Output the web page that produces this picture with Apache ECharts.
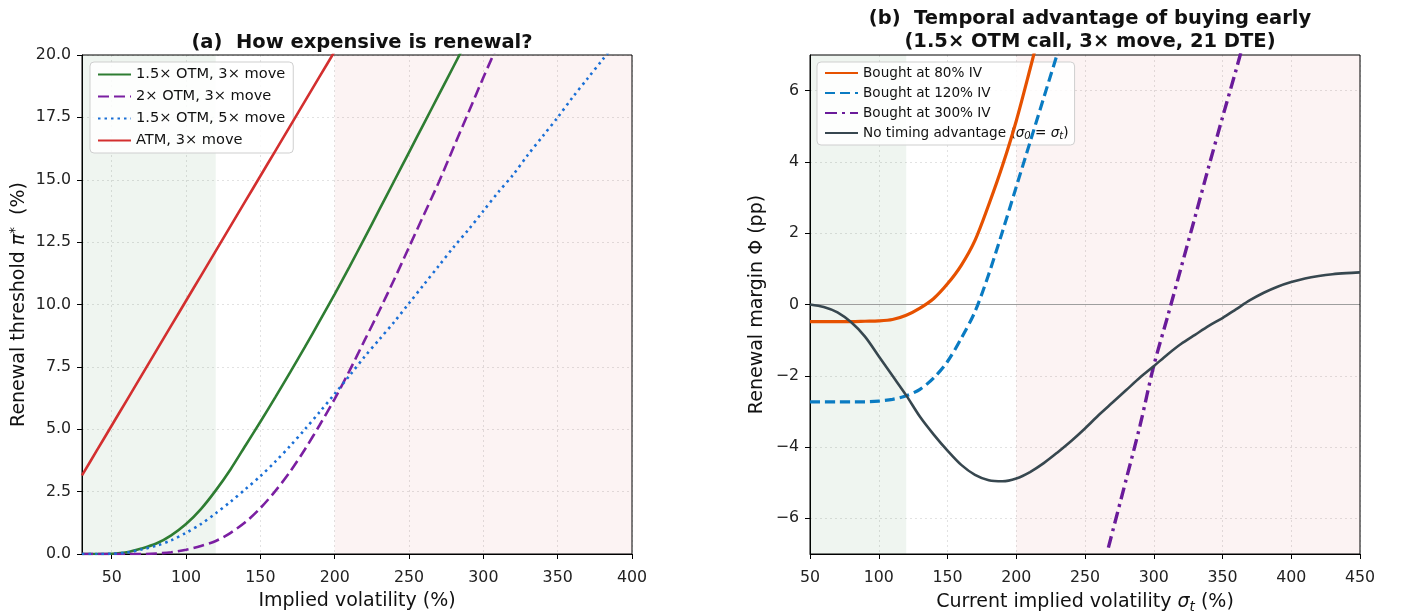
<!DOCTYPE html>
<html><head><meta charset="utf-8">
<script src="https://cdn.jsdelivr.net/npm/echarts@6/dist/echarts.min.js"></script>
<style>html,body{margin:0;padding:0;background:#fff}#c{width:1403px;height:615px}</style>
</head><body><div id="c"></div>
<script>
// ---------- Panel (a) data ----------
const ivA = [30,40,50,60,70,80,90,100,110,120,130,140,150,160,170,180,190,200,210,220,230,240,250,260,270,280,290,300,310,320,330,340,350,360,370,380,390,400];
const otm15_3x = [0,0,0.01,0.07,0.22,0.42,0.75,1.2,1.8,2.55,3.4,4.35,5.3,6.28,7.28,8.3,9.35,10.42,11.52,12.65,13.8,14.95,16.1,17.25,18.4,19.55,20.7,21.85];
const otm2_3x = [0,0,0,0,0,0.02,0.07,0.17,0.32,0.52,0.85,1.28,1.84,2.52,3.3,4.2,5.18,6.22,7.35,8.55,9.75,11.0,12.3,13.6,14.9,16.3,17.7,19.1,20.45,21.8];
const otm15_5x = [0,0,0.01,0.06,0.18,0.33,0.55,0.85,1.2,1.63,2.1,2.6,3.12,3.7,4.33,5.0,5.7,6.42,7.15,7.9,8.6,9.3,10.05,10.8,11.55,12.3,13.0,13.75,14.5,15.2,16.0,16.75,17.5,18.3,19.05,19.8,20.55,21.3];
const atm_3x = [3.15,4.15,5.15,6.15,7.15,8.15,9.15,10.15,11.15,12.15,13.15,14.15,15.15,16.15,17.15,18.15,19.15,20.15,21.15];
const namesA = ['1.5× OTM, 3× move','2× OTM, 3× move','1.5× OTM, 5× move','ATM, 3× move'];
const ticksAx = [50,100,150,200,250,300,350,400];

// ---------- Panel (b) data ----------
const ivB = [50,60,70,80,90,100,110,120,130,140,150,160,170,180,190,200,210,220,230,240,250,260,270,280,290,300,310,320,330,340,350,360,370,380,390,400,410,420,430,440,450];
const bought80 = [-0.48,-0.48,-0.48,-0.48,-0.47,-0.46,-0.42,-0.3,-0.1,0.17,0.58,1.1,1.8,2.8,3.9,5.15,6.6,8.1];
const bought120 = [-2.73,-2.73,-2.73,-2.73,-2.73,-2.71,-2.66,-2.56,-2.38,-2.06,-1.6,-0.95,-0.2,0.85,2.05,3.3,4.55,5.8,7.05,8.3];
const noTiming = [0,-0.07,-0.22,-0.5,-0.9,-1.45,-2.0,-2.55,-3.15,-3.65,-4.1,-4.5,-4.78,-4.93,-4.96,-4.88,-4.7,-4.45,-4.15,-3.83,-3.48,-3.1,-2.75,-2.4,-2.05,-1.73,-1.4,-1.1,-0.85,-0.6,-0.38,-0.13,0.12,0.33,0.5,0.63,0.73,0.8,0.85,0.88,0.9];
const ivB300 = [267,280,290,300,310,320,330,340,350,360,370];
const bought300 = [-6.82,-4.9,-3.4,-1.72,-0.35,1.05,2.45,3.87,5.25,6.6,8.0];
const namesB = ['Bought at 80% IV','Bought at 120% IV','Bought at 300% IV','No timing advantage'];
const ticksBy = [-6,-4,-2,0,2,4,6];

const pair = (xs, ys) => ys.map((y, i) => [xs[i], y]);
const FONT = 'DejaVu Sans';
const gridLine = {show: true, lineStyle: {color: '#e2e2e2', type: [2, 3], width: 1}};

const chart = echarts.init(document.getElementById('c'), null, {renderer: 'canvas'});

function lineSeries(name, data, color, width, type, xi, extra) {
  return Object.assign({
    name, type: 'line', data, xAxisIndex: xi, yAxisIndex: xi,
    showSymbol: false, symbol: 'none', smooth: 0.3,
    clip: true, z: 5,
    lineStyle: {color, width, type, cap: 'butt'},
    itemStyle: {color}
  }, extra || {});
}

const axisCommon = {
  axisLine: {show: true, onZero: false, lineStyle: {color: '#000', width: 1}},
  axisTick: {show: true, length: 5, lineStyle: {color: '#000'}},
  axisLabel: {color: '#222', fontFamily: FONT, fontSize: 15.8, margin: 11},
  nameTextStyle: {color: '#111', fontFamily: FONT, fontSize: 19},
  splitLine: gridLine
};
const xLabel = Object.assign({}, axisCommon.axisLabel, {margin: 16});

const legendCommon = {
  orient: 'vertical', itemWidth: 33, itemHeight: 12,
  itemStyle: {opacity: 0},
  backgroundColor: 'rgba(255,255,255,0.85)', borderColor: '#cfcfcf', borderWidth: 1, borderRadius: 4
};

const option = {
  animation: false,
  backgroundColor: '#fff',
  textStyle: {fontFamily: FONT},
  title: [
    {text: '(a)  How expensive is renewal?', left: 357, top: 28, textAlign: 'center',
     textStyle: {fontFamily: FONT, fontSize: 19.5, fontWeight: 'bold', color: '#111'}},
    {text: '(b)  Temporal advantage of buying early\n(1.5× OTM call, 3× move, 21 DTE)', left: 1085, top: 2, textAlign: 'center',
     textStyle: {fontFamily: FONT, fontSize: 19.5, fontWeight: 'bold', color: '#111', lineHeight: 23}}
  ],
  grid: [
    {left: 82, right: 771, top: 55, bottom: 61, outerBoundsMode: 'none', containLabel: false, show: true, z: 4, borderColor: '#000', borderWidth: 1, backgroundColor: 'transparent'},
    {left: 810, right: 43, top: 55, bottom: 61, outerBoundsMode: 'none', containLabel: false, show: true, z: 4, borderColor: '#000', borderWidth: 1, backgroundColor: 'transparent'}
  ],
  legend: [
    Object.assign({}, legendCommon, {data: namesA, left: 90, top: 62, itemGap: 7,
     padding: [5, 8, 5, 7],
     textStyle: {fontFamily: FONT, fontSize: 14.6, color: '#111'}}),
    Object.assign({}, legendCommon, {data: namesB, left: 817, top: 62, itemGap: 6,
     padding: [4, 6, 4, 7],
     formatter: n => n === 'No timing advantage' ? 'No timing advantage ({i|σ}{sub|0} = {i|σ}{sub|t})' : n,
     textStyle: {fontFamily: FONT, fontSize: 13.6, color: '#111',
       rich: {i: {fontStyle: 'italic', fontFamily: FONT, fontSize: 13.6, color: '#111'},
              sub: {fontStyle: 'italic', fontFamily: FONT, fontSize: 10, color: '#111', verticalAlign: 'bottom', padding: [6, 0, 0, 0]}}}})
  ],
  xAxis: [
    Object.assign({}, axisCommon, {
      type: 'value', gridIndex: 0, min: 30, max: 400,
      name: 'Implied volatility (%)', nameLocation: 'middle', nameGap: 38,
      axisTick: Object.assign({}, axisCommon.axisTick, {customValues: ticksAx}),
      axisLabel: Object.assign({}, xLabel, {customValues: ticksAx})
    }),
    Object.assign({}, axisCommon, {
      type: 'value', gridIndex: 1, min: 50, max: 450, interval: 50,
      axisLabel: xLabel,
      name: 'Current implied volatility {i|σ}{sub|t} (%)', nameLocation: 'middle', nameGap: 37,
      nameTextStyle: {color: '#111', fontFamily: FONT, fontSize: 19,
        rich: {i: {fontStyle: 'italic', fontFamily: FONT, fontSize: 19, color: '#111'},
               sub: {fontStyle: 'italic', fontFamily: FONT, fontSize: 13.5, color: '#111', verticalAlign: 'bottom', padding: [9, 0, 0, 0]}}}
    })
  ],
  yAxis: [
    Object.assign({}, axisCommon, {
      type: 'value', gridIndex: 0, min: 0, max: 20, interval: 2.5,
      axisLabel: Object.assign({}, axisCommon.axisLabel, {formatter: v => v.toFixed(1)}),
      name: 'Renewal threshold {i|π}{sup|*}  (%)', nameLocation: 'middle', nameGap: 51, nameRotate: 90,
      nameTextStyle: {color: '#111', fontFamily: FONT, fontSize: 19,
        rich: {i: {fontStyle: 'italic', fontFamily: FONT, fontSize: 19, color: '#111'},
               sup: {fontFamily: FONT, fontSize: 13.5, color: '#111', verticalAlign: 'top', padding: [0, 0, 9, 0]}}}
    }),
    Object.assign({}, axisCommon, {
      type: 'value', gridIndex: 1, min: -7, max: 7,
      axisTick: Object.assign({}, axisCommon.axisTick, {customValues: ticksBy}),
      axisLabel: Object.assign({}, axisCommon.axisLabel, {customValues: ticksBy, formatter: v => (v < 0 ? '−' + Math.abs(v) : String(v))}),
      name: 'Renewal margin Φ (pp)', nameLocation: 'middle', nameGap: 43, nameRotate: 90
    })
  ],
  series: [
    lineSeries(namesA[0], pair(ivA, otm15_3x), '#2e7d32', 2.6, 'solid', 0, {
      markArea: {silent: true, z: 1, data: [
        [{xAxis: 30, itemStyle: {color: 'rgba(46,125,50,0.075)'}}, {xAxis: 120}],
        [{xAxis: 200, itemStyle: {color: 'rgba(211,47,47,0.06)'}}, {xAxis: 400}]
      ]}
    }),
    lineSeries(namesA[1], pair(ivA, otm2_3x), '#7b1fa2', 2.6, [11, 5], 0),
    lineSeries(namesA[2], pair(ivA, otm15_5x), '#1a6fd6', 2.6, [2.5, 4], 0),
    lineSeries(namesA[3], pair(ivA, atm_3x), '#d32f2f', 2.6, 'solid', 0),

    lineSeries(namesB[0], pair(ivB, bought80), '#e65100', 3.2, 'solid', 1, {
      markArea: {silent: true, z: 1, data: [
        [{xAxis: 50, itemStyle: {color: 'rgba(46,125,50,0.075)'}}, {xAxis: 120}],
        [{xAxis: 200, itemStyle: {color: 'rgba(211,47,47,0.06)'}}, {xAxis: 450}]
      ]},
      markLine: {silent: true, symbol: 'none', label: {show: false}, z: 2,
        lineStyle: {color: '#9e9e9e', width: 1.2, type: 'solid'}, data: [{yAxis: 0}]}
    }),
    lineSeries(namesB[1], pair(ivB, bought120), '#0a7bc2', 3.2, [10, 5], 1),
    lineSeries(namesB[2], pair(ivB300, bought300), '#6a1b9a', 3.4, [12, 5, 3, 5], 1),
    lineSeries(namesB[3], pair(ivB, noTiming), '#37474f', 2.6, 'solid', 1)
  ]
};
chart.setOption(option);
</script></body></html>
